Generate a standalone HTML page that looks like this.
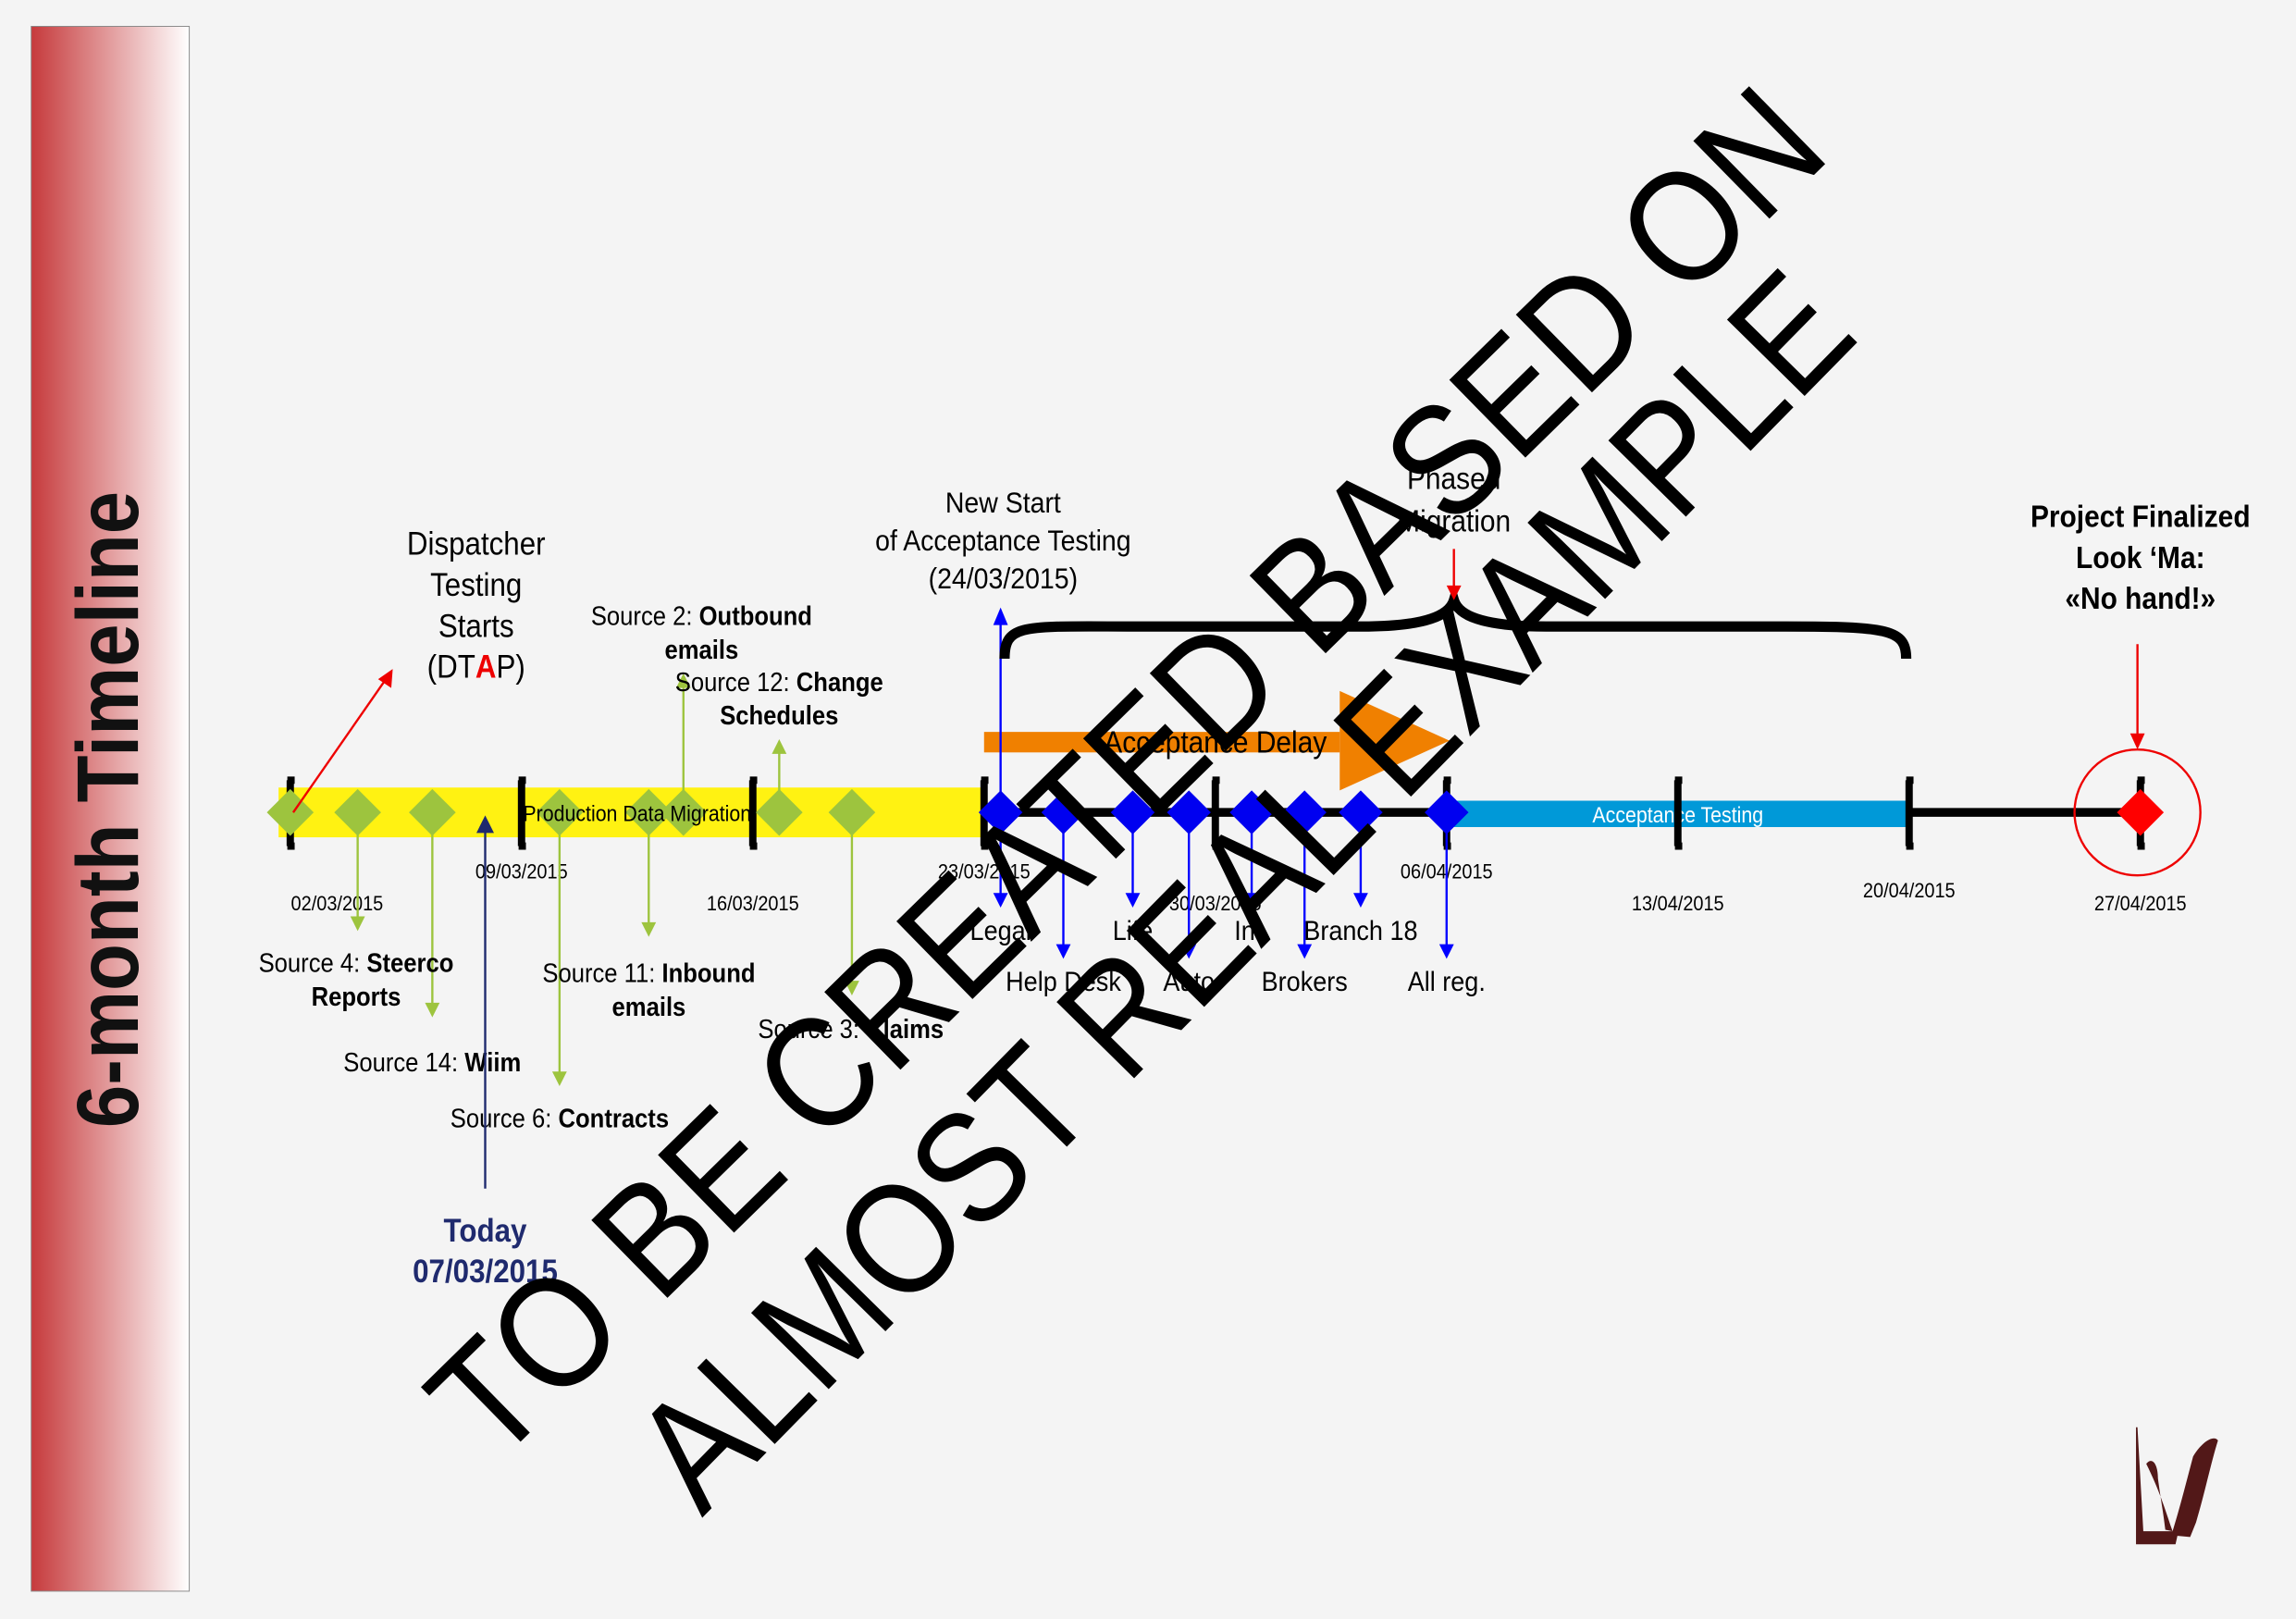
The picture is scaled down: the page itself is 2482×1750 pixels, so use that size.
<!DOCTYPE html>
<html><head><meta charset="utf-8"><style>
html,body{margin:0;padding:0;background:#f4f4f4;}
svg{display:block;}
text{font-family:"Liberation Sans Narrow","Liberation Sans",sans-serif;}
</style></head><body>
<svg id="chart" width="2482" height="1750" viewBox="0 0 1568 1106" xmlns="http://www.w3.org/2000/svg">
<defs>
<linearGradient id="sb" x1="0" x2="1" y1="0" y2="0"><stop offset="0" stop-color="#c63a3c"/><stop offset="1" stop-color="#ffffff"/></linearGradient>
</defs>
<rect x="0" y="0" width="1568" height="1106" fill="#f4f4f4"/>
<rect x="21" y="18" width="108" height="1069" fill="url(#sb)" stroke="#888" stroke-width="0.6"/>
<text x="78" y="553" transform="rotate(-90 78 553)" text-anchor="middle" dominant-baseline="middle" font-size="60" font-weight="bold" fill="#111" textLength="435" lengthAdjust="spacingAndGlyphs">6-month Timeline</text>
<g id="g"></g>
<path d="M686,450 C686,425 700,428 780,428 L930,428 C975,428 990,420 993,410 C996,420 1011,428 1056,428 L1220,428 C1290,428 1302,430 1302,450" fill="none" stroke="#000" stroke-width="7"/>
<line x1="993" y1="375" x2="993" y2="402" stroke="#e00" stroke-width="1.5"/>
<path d="M988,400 L998,400 L993,410z" fill="#e00"/>
<text x="993" y="334" text-anchor="middle" font-size="21"><tspan x="993">Phased</tspan><tspan x="993" dy="29">Migration</tspan></text>
<text x="325" y="379" text-anchor="middle" font-size="22"><tspan x="325">Dispatcher</tspan><tspan x="325" dy="28">Testing</tspan><tspan x="325" dy="28">Starts</tspan><tspan x="325" dy="28">(DT<tspan fill="#e00" font-weight="bold">A</tspan>P)</tspan></text>
<text x="685" y="350" text-anchor="middle" font-size="20"><tspan x="685">New Start</tspan><tspan x="685" dy="26">of Acceptance Testing</tspan><tspan x="685" dy="26">(24/03/2015)</tspan></text>
<line x1="200" y1="555" x2="264" y2="463" stroke="#e00" stroke-width="1.5"/>
<path d="M268,457 L267,470 L258,464z" fill="#e00"/>
<text x="1462" y="360" text-anchor="middle" font-size="21" font-weight="bold"><tspan x="1462">Project Finalized</tspan><tspan x="1462" dy="28">Look ‘Ma:</tspan><tspan x="1462" dy="28">«No hand!»</tspan></text>
<line x1="1460" y1="440" x2="1460" y2="503" stroke="#e00" stroke-width="1.5"/>
<path d="M1455,501 L1465,501 L1460,512z" fill="#e00"/>
<circle cx="1460" cy="555" r="43" fill="none" stroke="#e00" stroke-width="1.5"/>
<g fill="#521818">
<path d="M1459,975 L1460,975 L1464,1046 L1488,1046 L1486,1055 L1459,1055z"/>
<path d="M1466,1000 C1470,995 1474,1000 1474,1010 C1476,1025 1478,1035 1479,1045 L1484,1046 C1489,1030 1494,1010 1498,995 C1504,985 1512,980 1515,984 C1510,1000 1506,1020 1500,1040 L1496,1050 L1485,1049 C1480,1035 1476,1020 1466,1000z"/>
</g>
<text x="775" y="534" transform="rotate(-44.4 775 534)" text-anchor="middle" dominant-baseline="middle" font-size="108" textLength="1280" lengthAdjust="spacingAndGlyphs" fill="#000" style="font-family:'Liberation Sans',sans-serif">TO BE CREATED BASED ON</text>
<text x="855" y="614" transform="rotate(-45.5 855 614)" text-anchor="middle" dominant-baseline="middle" font-size="108" textLength="1130" lengthAdjust="spacingAndGlyphs" fill="#000" style="font-family:'Liberation Sans',sans-serif">ALMOST REAL EXAMPLE</text>
</svg>
<script>
const tickLabels=["02/03/2015","09/03/2015","16/03/2015","23/03/2015","30/03/2015","06/04/2015","13/04/2015","20/04/2015","27/04/2015"];
const tickDays=[0,7,14,21,28,35,42,49,56];
const greenDays=[0,2.04,4.3,8.15,10.85,11.9,14.8,17];
const greenArrowEnds=[null,636,695,742,640,460,505,680];
const blueDays=[21.5,23.4,25.5,27.2,29.1,30.7,32.4,35];
const blueLabels=["Legal","Help Desk","Life","Auto","Int.","Brokers","Branch 18","All reg."];
const todayDay=5.9;
const finalDay=56;
const x=d=>198+d*158/7;
const Y=555;
const NS="http://www.w3.org/2000/svg";
const g=document.getElementById('g');
function mk(t,a,txt){const e=document.createElementNS(NS,t);for(const k in a)e.setAttribute(k,a[k]);if(txt!=null)e.textContent=txt;g.appendChild(e);return e;}
let e;
e=mk('line',{x1:x(0),y1:Y,x2:x(56),y2:Y,stroke:'#000','stroke-width':6});


e=mk('rect',{x:190,y:538,width:x(21)-190,height:34,fill:'#fff212'});


e=mk('rect',{x:x(35),y:547,width:x(49)-x(35),height:18,fill:'#0099d8'});


e=mk('text',{x:x(42),y:562,'text-anchor':'middle','font-size':15,fill:'#fff'},'Acceptance Testing');


e=mk('rect',{x:x(21),y:500,width:915-x(21),height:14,fill:'#f08000'});


e=mk('path',{d:'M915,472 L915,540 L990,506z',fill:'#f08000'});


e=mk('text',{x:830,y:514,'text-anchor':'middle','font-size':21},'Acceptance Delay');


tickDays.forEach((d,i)=>{
  const xx=x(d);
  e=mk('path',{d:`M${xx-2},533 L${xx+3},533 M${xx},533 L${xx},578 M${xx-2},578 L${xx+3},578`,stroke:'#000','stroke-width':5,fill:'none'});
  
  
  const ly=(i%2===1)?600:622;
  const lx=i===0?230:xx;
  e=mk('text',{x:lx,y:(i===7?613:ly),'text-anchor':'middle','font-size':14},tickLabels[i]);
  
  
});
greenDays.forEach((d,i)=>{
  const xx=x(d);const end=greenArrowEnds[i];
  if(end!=null){
    const up=end<Y;
    e=mk('line',{x1:xx,y1:Y,x2:xx,y2:up?end+8:end-8,stroke:'#9dc43e','stroke-width':1.5});
    
    
    e=mk('path',{d:up?`M${xx-5},${end+10} L${xx+5},${end+10} L${xx},${end}z`:`M${xx-5},${end-10} L${xx+5},${end-10} L${xx},${end}z`,fill:'#9dc43e'});
  }
  e=mk('path',{d:`M${xx},${Y-16} L${xx+16},${Y} L${xx},${Y+16} L${xx-16},${Y}z`,fill:'#9dc43e'});
  
  
});
e=mk('text',{x:435,y:561,'text-anchor':'middle','font-size':15},'Production Data Migration');


const srcLabels=[[243,658,'Source 4: ','Steerco'],[243,681,'','Reports'],[295,726,'Source 14: ','Wiim'],[443,665,'Source 11: ','Inbound'],[443,688,'','emails'],[382,764,'Source 6: ','Contracts'],[581,703,'Source 3: ','Claims'],[479,421,'Source 2: ','Outbound'],[479,444,'','emails'],[532,466,'Source 12: ','Change'],[532,489,'','Schedules']];
srcLabels.forEach((s,i)=>{
  e=mk('text',{x:s[0],y:s[1]+6,'text-anchor':'middle','font-size':18});
  const a=document.createElementNS(NS,'tspan');a.textContent=s[2];e.appendChild(a);
  const b=document.createElementNS(NS,'tspan');b.setAttribute('font-weight','bold');b.textContent=s[3];e.appendChild(b);
  
  
});
e=mk('line',{x1:x(21.5),y1:Y,x2:x(21.5),y2:425,stroke:'#00f','stroke-width':1.5});


mk('path',{d:`M${x(21.5)-5},427 L${x(21.5)+5},427 L${x(21.5)},415z`,fill:'#00f'});
blueDays.forEach((d,i)=>{
  const xx=x(d);const end=(i%2===0)?620:655;
  e=mk('line',{x1:xx,y1:Y,x2:xx,y2:end-8,stroke:'#00f','stroke-width':1.5});
  
  
  mk('path',{d:`M${xx-5},${end-10} L${xx+5},${end-10} L${xx},${end}z`,fill:'#00f'});
  e=mk('path',{d:`M${xx},${Y-15} L${xx+15},${Y} L${xx},${Y+15} L${xx-15},${Y}z`,fill:'#0000f0'});
  
  
  e=mk('text',{x:xx,y:end+22,'text-anchor':'middle','font-size':19},blueLabels[i]);
  
  
});
const tx=x(todayDay);
e=mk('line',{x1:tx,y1:568,x2:tx,y2:812,stroke:'#1f2a6e','stroke-width':1.5});


mk('path',{d:`M${tx-6},569 L${tx+6},569 L${tx},557z`,fill:'#1f2a6e'});
e=mk('text',{x:tx,y:848,'text-anchor':'middle','font-size':22,'font-weight':'bold',fill:'#1f2a6e'},'Today');


e=mk('text',{x:tx,y:876,'text-anchor':'middle','font-size':22,'font-weight':'bold',fill:'#1f2a6e'},'07/03/2015');


const fx=x(finalDay);
e=mk('path',{d:`M${fx},${Y-16} L${fx+16},${Y} L${fx},${Y+16} L${fx-16},${Y}z`,fill:'#f00'});


document.querySelectorAll('text').forEach(t=>{
  if(t.hasAttribute('transform')||t.hasAttribute('textLength'))return;
  const cx=parseFloat(t.getAttribute('x'));
  t.setAttribute('transform',`translate(${cx},0) scale(0.9,1) translate(${-cx},0)`);
});
</script>
</body></html>
